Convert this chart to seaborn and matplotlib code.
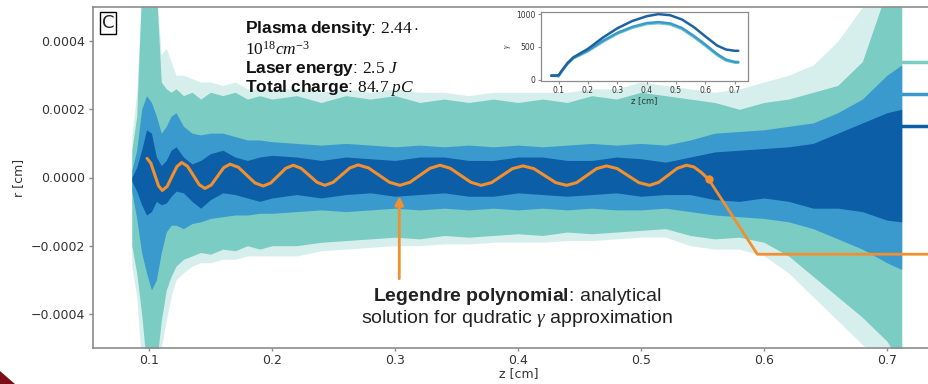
import numpy as np
import pandas as pd
import matplotlib
matplotlib.use("Agg")
import matplotlib.pyplot as plt
import seaborn as sns
from matplotlib.lines import Line2D
from matplotlib.patches import Polygon

# ---------------- data (r in units of 1e-4 cm) ----------------
z_env = [0.086, 0.090, 0.094, 0.098, 0.102, 0.106, 0.110, 0.114, 0.118, 0.122,
         0.128, 0.135, 0.142, 0.150, 0.160, 0.170, 0.180, 0.190, 0.200, 0.220,
         0.240, 0.260, 0.280, 0.300, 0.320, 0.340, 0.360, 0.380, 0.400, 0.420,
         0.440, 0.460, 0.480, 0.500, 0.520, 0.540, 0.560, 0.580, 0.600, 0.620,
         0.640, 0.660, 0.680, 0.700, 0.712]

faint_hi = [1.2, 2.5, 5.5, 5.5, 5.5, 5.5, 3.6, 3.8, 3.4, 3.0,
            3.0, 2.9, 2.8, 2.8, 2.7, 2.8, 2.6, 2.6, 2.6, 2.6,
            2.5, 2.6, 2.5, 2.6, 2.5, 2.5, 2.4, 2.5, 2.5, 2.5,
            2.5, 2.6, 2.6, 2.8, 2.7, 2.6, 2.5, 2.6, 2.8, 3.0,
            3.3, 4.0, 5.0, 5.5, 5.5]
faint_lo = [-2.6, -3.5, -5.5, -5.5, -5.5, -5.5, -5.0, -4.2, -3.5, -3.0,
            -2.8, -2.6, -2.5, -2.5, -2.4, -2.4, -2.3, -2.3, -2.3, -2.3,
            -2.15, -2.1, -2.05, -2.0, -2.0, -1.95, -1.95, -1.9, -1.9, -1.9,
            -1.85, -1.85, -1.8, -1.75, -1.75, -2.0, -2.1, -2.1, -2.3, -2.8,
            -3.5, -4.2, -4.9, -5.5, -5.5]

teal_hi = [0.8, 1.8, 5.5, 5.5, 5.5, 5.5, 2.8, 2.6, 2.5, 2.6,
           2.4, 2.5, 2.3, 2.5, 2.4, 2.5, 2.3, 2.4, 2.3, 2.4,
           2.2, 2.4, 2.3, 2.4, 2.2, 2.3, 2.2, 2.3, 2.2, 2.3,
           2.2, 2.4, 2.3, 2.5, 2.4, 2.3, 2.2, 2.0, 2.2, 2.3,
           2.5, 2.7, 3.4, 5.5, 5.5]
teal_lo = [-2.0, -2.8, -4.0, -5.5, -5.5, -5.5, -4.2, -3.3, -2.9, -2.6,
           -2.4, -2.3, -2.2, -2.25, -2.1, -2.15, -2.0, -2.1, -2.0, -2.0,
           -1.9, -1.85, -1.8, -1.75, -1.8, -1.7, -1.75, -1.7, -1.65, -1.7,
           -1.6, -1.65, -1.6, -1.55, -1.5, -1.7, -1.8, -1.75, -1.9, -2.3,
           -2.9, -3.5, -4.1, -4.8, -5.5]

med_hi = [0.2, 0.8, 2.0, 2.4, 2.2, 1.8, 1.3, 1.5, 1.8, 1.9,
          1.5, 1.3, 1.25, 1.3, 1.3, 1.2, 1.1, 1.1, 1.05, 1.0,
          0.95, 1.0, 0.95, 0.9, 0.95, 0.9, 0.95, 0.9, 0.95, 0.9,
          0.95, 1.0, 0.95, 1.0, 0.95, 1.1, 1.3, 1.35, 1.4, 1.5,
          1.6, 1.9, 2.3, 3.0, 3.3]
med_lo = [-0.4, -1.2, -2.2, -2.8, -3.3, -3.0, -2.2, -1.6, -1.4, -1.4,
          -1.5, -1.35, -1.3, -1.2, -1.15, -1.1, -1.1, -1.05, -1.05, -1.0,
          -0.95, -1.0, -0.95, -0.9, -0.95, -0.9, -0.95, -0.9, -0.95, -0.9,
          -0.95, -0.9, -0.95, -0.95, -0.9, -1.0, -1.1, -1.15, -1.2, -1.3,
          -1.5, -1.8, -2.1, -2.5, -2.7]

dark_hi = [0.0, 0.3, 0.8, 1.4, 1.3, 0.6, 0.35, 0.5, 0.8, 0.9,
           0.6, 0.4, 0.5, 0.7, 0.8, 0.6, 0.5, 0.6, 0.65, 0.6,
           0.5, 0.6, 0.55, 0.5, 0.6, 0.6, 0.5, 0.5, 0.6, 0.6,
           0.5, 0.5, 0.6, 0.55, 0.45, 0.6, 0.75, 0.8, 0.85, 0.9,
           1.0, 1.3, 1.6, 1.9, 2.0]
dark_lo = [-0.1, -0.4, -0.8, -1.1, -1.0, -0.7, -0.8, -0.75, -0.55, -0.4,
           -0.45, -0.7, -0.9, -0.65, -0.45, -0.5, -0.6, -0.7, -0.6, -0.5,
           -0.6, -0.5, -0.45, -0.55, -0.5, -0.45, -0.55, -0.55, -0.45, -0.5,
           -0.55, -0.5, -0.45, -0.55, -0.5, -0.5, -0.65, -0.7, -0.6, -0.7,
           -0.9, -0.9, -1.0, -1.25, -1.3]

# Legendre polynomial (analytical solution)
z_leg = [0.0984, 0.1015, 0.1046, 0.1077, 0.1108, 0.1148, 0.1187, 0.1227, 0.1266,
         0.1313, 0.1361, 0.1408, 0.1455, 0.1506, 0.1557, 0.1608, 0.1659,
         0.1727, 0.1794, 0.1862, 0.1929, 0.1990, 0.2051, 0.2112, 0.2173,
         0.2237, 0.2302, 0.2366, 0.2430, 0.2498, 0.2565, 0.2633, 0.2700,
         0.2785, 0.2870, 0.2955, 0.3040, 0.3122, 0.3203, 0.3285, 0.3366,
         0.3450, 0.3533, 0.3617, 0.3700, 0.3785, 0.3870, 0.3955, 0.4040,
         0.4129, 0.4218, 0.4307, 0.4396, 0.4477, 0.4558, 0.4639, 0.4720,
         0.4808, 0.4895, 0.4983, 0.5070, 0.5145, 0.5220, 0.5295, 0.5370,
         0.5430, 0.5490, 0.5550]
r_leg = [0.56, 0.42, 0.09, -0.24, -0.38, -0.26, 0.03, 0.32, 0.44,
         0.33, 0.06, -0.21, -0.32, -0.22, 0.035, 0.29, 0.39,
         0.30, 0.07, -0.16, -0.25, -0.16, 0.055, 0.27, 0.36,
         0.27, 0.065, -0.14, -0.23, -0.14, 0.07, 0.28, 0.37,
         0.28, 0.07, -0.14, -0.23, -0.14, 0.065, 0.27, 0.36,
         0.27, 0.065, -0.14, -0.23, -0.15, 0.055, 0.26, 0.34,
         0.26, 0.055, -0.15, -0.23, -0.15, 0.055, 0.26, 0.34,
         0.26, 0.055, -0.15, -0.23, -0.14, 0.065, 0.27, 0.36,
         0.31, 0.15, -0.05]

# inset: gamma vs z
z_gam = [0.075, 0.090, 0.100, 0.110, 0.130, 0.150, 0.200, 0.250, 0.300, 0.350,
         0.400, 0.440, 0.480, 0.520, 0.560, 0.600, 0.640, 0.670, 0.700, 0.712]
gam_dark = [60, 60, 65, 130, 250, 340, 470, 640, 785, 895,
            970, 1002, 985, 920, 805, 660, 520, 460, 440, 440]
gam_med = [60, 60, 62, 125, 245, 330, 445, 590, 715, 805,
           865, 880, 860, 790, 670, 535, 390, 305, 270, 268]
gam_light = [55, 55, 45, 118, 238, 322, 432, 575, 700, 790,
             848, 862, 842, 772, 652, 515, 372, 290, 258, 256]

# ---------------- style ----------------
sns.set_style("white")
plt.rcParams["font.family"] = ["DejaVu Sans"]
plt.rcParams["mathtext.fontset"] = "custom"
plt.rcParams["mathtext.rm"] = "Liberation Serif"
plt.rcParams["mathtext.it"] = "Liberation Serif:italic"
plt.rcParams["mathtext.bf"] = "Liberation Sans:bold"

TEAL = "#7BCCC3"
MED = "#3B9ACD"
DARK = "#0C5EA7"
ORANGE = "#F28F2F"
SPINE = "#8C8C8C"

W, H = 929, 384
fig = plt.figure(figsize=(W / 100, H / 100), dpi=100)
ax = fig.add_axes([93 / W, 36 / H, (945 - 93) / W, 341 / H])

z = np.array(z_env)
s = 1e-4
ax.fill_between(z, np.array(faint_lo) * s, np.array(faint_hi) * s, color=TEAL, alpha=0.3, lw=0)
ax.fill_between(z, np.array(teal_lo) * s, np.array(teal_hi) * s, color=TEAL, lw=0)
ax.fill_between(z, np.array(med_lo) * s, np.array(med_hi) * s, color=MED, lw=0)
ax.fill_between(z, np.array(dark_lo) * s, np.array(dark_hi) * s, color=DARK, lw=0)

leg_df = pd.DataFrame({"z": z_leg, "r": np.array(r_leg) * s})
sns.lineplot(data=leg_df, x="z", y="r", ax=ax, color=ORANGE, lw=2.2,
             sort=False, estimator=None)
ax.plot(leg_df["z"].iloc[-1], leg_df["r"].iloc[-1], "o", color=ORANGE, ms=5)

ax.set_xlim(0.05447, 0.7472)
ax.set_ylim(-0.0005, 0.0005)
ax.set_xticks([0.1, 0.2, 0.3, 0.4, 0.5, 0.6, 0.7])
ax.set_yticks([-0.0004, -0.0002, 0.0, 0.0002, 0.0004])
ax.tick_params(axis="x", direction="out", length=2.5, width=1, color=SPINE,
               labelcolor="#333333", labelsize=9, pad=1.5, bottom=True)
ax.tick_params(axis="y", direction="out", length=3, width=1, color=SPINE,
               labelcolor="#333333", labelsize=9, pad=2.5, left=True)
for side in ["left", "bottom", "top"]:
    ax.spines[side].set_color(SPINE)
    ax.spines[side].set_linewidth(1.2)
ax.spines["right"].set_visible(False)
ax.set_xlabel("z [cm]", fontsize=9, color="#333333", labelpad=0.5)
ax.set_ylabel("r [cm]", fontsize=9, color="#333333", labelpad=4)

# annotations
ax.annotate("", xy=(0.3035, -0.55e-4), xytext=(0.3035, -2.97e-4),
            arrowprops=dict(arrowstyle="-|>,head_length=0.5,head_width=0.25",
                            color=ORANGE, lw=2, shrinkA=0, shrinkB=0))
ax.annotate("", xy=(leg_df["z"].iloc[-1], leg_df["r"].iloc[-1]),
            xytext=(0.80, -2.25e-4), annotation_clip=False,
            arrowprops=dict(arrowstyle="-", color=ORANGE, lw=2, shrinkA=0, shrinkB=0,
                            connectionstyle="angle,angleA=0,angleB=-57,rad=0"))

fig.text(516.7 / W, 1 - 300.7 / H,
         r"$\bf{Legendre\ polynomial}$: analytical",
         ha="center", va="baseline", fontsize=14, family="Liberation Sans", color="#222222")
fig.text(516.7 / W, 1 - 322.7 / H,
         r"solution for qudratic $\gamma$ approximation",
         ha="center", va="baseline", fontsize=14, family="Liberation Sans", color="#222222")

tx = 245 / W
fs_info = 12.5
fig.text(tx, 1 - 32.5 / H, r"$\bf{Plasma\ density}$: $2.44\cdot$",
         ha="left", va="baseline", fontsize=fs_info, family="Liberation Sans", color="#111111")
fig.text(tx, 1 - 54.5 / H, r"$10^{18}cm^{-3}$",
         ha="left", va="baseline", fontsize=fs_info, family="Liberation Sans", color="#111111")
fig.text(tx, 1 - 73 / H, r"$\bf{Laser\ energy}$: $2.5\ J$",
         ha="left", va="baseline", fontsize=fs_info, family="Liberation Sans", color="#111111")
fig.text(tx, 1 - 91.5 / H, r"$\bf{Total\ charge}$: $84.7\ pC$",
         ha="left", va="baseline", fontsize=fs_info, family="Liberation Sans", color="#111111")

fig.text(108 / W, 1 - 23 / H, "C", ha="center", va="center", fontsize=13,
         family="DejaVu Sans",
         bbox=dict(boxstyle="square,pad=0.12", fc="white", ec="black", lw=1))

# legend handles at right edge (labels cut off)
handles = [Line2D([], [], color=c, lw=2.5) for c in (TEAL, MED, DARK)]
fig.legend(handles, ["", "", ""], loc="upper left",
           bbox_to_anchor=(902 / W, 1 - 56 / H), bbox_transform=fig.transFigure,
           frameon=False, borderpad=0, borderaxespad=0, handlelength=4,
           labelspacing=1.29, fontsize=10, handletextpad=0.5)

# inset
axin = fig.add_axes([541 / W, (H - 80.5) / H, 206.7 / W, 68.2 / H])
gdf = pd.DataFrame({"z": z_gam, "dark": gam_dark, "med": gam_med, "light": gam_light})
sns.lineplot(data=gdf, x="z", y="light", ax=axin, color=TEAL, lw=1.8)
sns.lineplot(data=gdf, x="z", y="med", ax=axin, color=MED, lw=1.8)
sns.lineplot(data=gdf, x="z", y="dark", ax=axin, color="#1F62A0", lw=1.8)
axin.set_xlim(0.04, 0.744)
axin.set_ylim(-15, 1030)
axin.set_xticks([0.1, 0.2, 0.3, 0.4, 0.5, 0.6, 0.7])
axin.set_yticks([0, 500, 1000])
axin.tick_params(direction="out", length=2.5, width=0.8, color=SPINE,
                 labelcolor="#333333", labelsize=5.5, pad=1.5, left=True, bottom=True)
for sp in axin.spines.values():
    sp.set_color(SPINE)
    sp.set_linewidth(0.9)
axin.set_xlabel("z [cm]", fontsize=6, color="#333333", labelpad=1)
axin.set_ylabel(r"$\gamma$", fontsize=6, color="#333333", labelpad=2)

# slide corner decoration
fig.patches.append(Polygon([(0, 0), (0, 13 / H), (8 / W, 6 / H), (15 / W, 0)],
                           closed=True, transform=fig.transFigure,
                           fc="#7A0F18", ec="none"))

fig.savefig("out.png", dpi=100)
